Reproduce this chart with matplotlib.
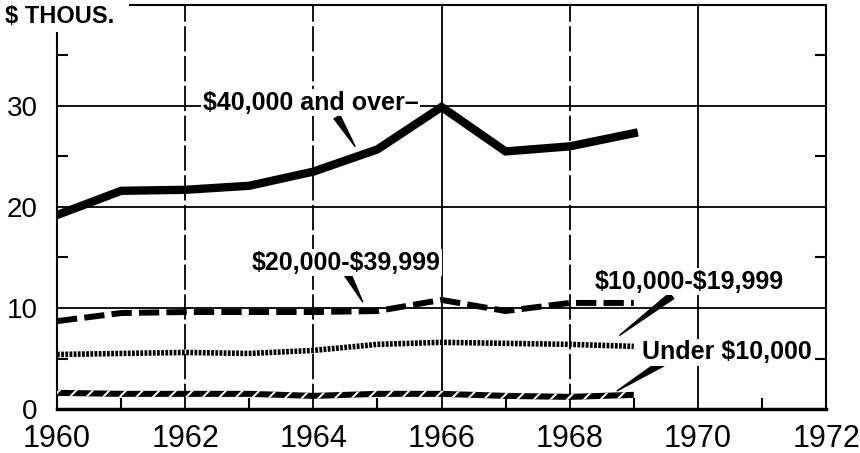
import numpy as np
import matplotlib
matplotlib.use("Agg")
import matplotlib.pyplot as plt

plt.rcParams["font.family"] = ["Liberation Sans", "DejaVu Sans"]
plt.rcParams["hatch.linewidth"] = 1.4

# data, thousands of dollars
years = [1960, 1961, 1962, 1963, 1964, 1965, 1966, 1967, 1968, 1969]
over_40k = [19.2, 21.6, 21.7, 22.1, 23.5, 25.7, 29.9, 25.5, 26.0, 27.3]
from_20k = [8.7, 9.5, 9.6, 9.6, 9.6, 9.7, 10.8, 9.7, 10.5, 10.5]
from_10k = [5.4, 5.5, 5.6, 5.5, 5.8, 6.4, 6.6, 6.5, 6.4, 6.2]
under_10k = [1.6, 1.5, 1.5, 1.5, 1.3, 1.5, 1.5, 1.3, 1.2, 1.4]

x_ticks = [1960, 1962, 1964, 1966, 1968, 1970, 1972]
y_ticks = [0, 10, 20, 30]

fig = plt.figure(figsize=(8.6, 4.53), dpi=100)
ax = fig.add_axes([0.0663, 0.0971, 0.8942, 0.892])
ax.set_xlim(1960, 1972)
ax.set_ylim(0, 40)

# grid
for yr in x_ticks[1:-1]:
    if yr in (1966, 1970):
        ax.axvline(yr, color="black", lw=1.3, zorder=1)
    else:
        ax.axvline(yr, color="black", lw=1.3, ls=(0, (14, 2.5)), zorder=1)
for v in y_ticks[1:]:
    ax.axhline(v, color="black", lw=1.3, zorder=1)

# series
ax.plot(years, over_40k, color="black", lw=6, solid_joinstyle="miter", zorder=3)
ax.plot(years, from_20k, color="black", lw=4.3, dashes=(3.4, 1.2),
        dash_capstyle="butt", zorder=3)
ax.plot(years, from_10k, color="black", lw=4.0, dashes=(0.5, 0.25),
        dash_capstyle="butt", zorder=3)
u = np.array(under_10k)
ax.fill_between(years, u - 0.3, u + 0.3, facecolor="black", edgecolor="white",
                hatch="//", linewidth=0, zorder=3)

# spines / ticks
for s in ax.spines.values():
    s.set_linewidth(1.5)
ax.spines["bottom"].set_linewidth(2.5)
ax.spines["left"].set_bounds(0, 37.2)
ax.spines["top"].set_bounds(1961.14, 1972)

ax.set_xticks(x_ticks)
ax.set_yticks(y_ticks)
ax.set_xticks([1961, 1963, 1965, 1967, 1969, 1971], minor=True)
ax.set_yticks([5, 15, 25, 35], minor=True)
ax.tick_params(which="major", length=0, labelsize=22, pad=11)
ax.tick_params(axis="y", which="major", labelsize=20, pad=14)
ax.tick_params(which="minor", direction="in", length=8, width=1.5,
               left=True, right=True, bottom=True, top=False)

fig.text(0.006, 0.964, r"\$ THOUS.", fontsize=17, fontweight="bold", va="center")

# labels and pointers
lab = dict(fontsize=18, fontweight="bold", ha="center", va="center", zorder=4,
           bbox=dict(facecolor="white", edgecolor="none", pad=1))
wedge = dict(arrowstyle="wedge,tail_width=0.5,shrink_factor=0.5",
             fc="black", ec="black", shrinkA=0, shrinkB=0)

ax.text(1963.96, 30.3, "\\$40,000 and over\u2013", **lab)
ax.annotate("", xy=(1964.65, 26.0), xytext=(1964.37, 28.9), arrowprops=wedge)

ax.text(1964.51, 14.5, "\\$20,000-\\$39,999", **lab)
ax.annotate("", xy=(1964.77, 10.6), xytext=(1964.52, 13.5), arrowprops=wedge)

ax.text(1969.87, 12.6, "\\$10,000-\\$19,999", **lab)
ax.annotate("", xy=(1968.78, 7.3), xytext=(1969.59, 11.2), arrowprops=wedge)

ax.text(1970.45, 5.6, "Under \\$10,000", **lab)
ax.annotate("", xy=(1968.74, 1.8), xytext=(1969.44, 4.55), arrowprops=wedge)

fig.savefig("out.png", dpi=100)
